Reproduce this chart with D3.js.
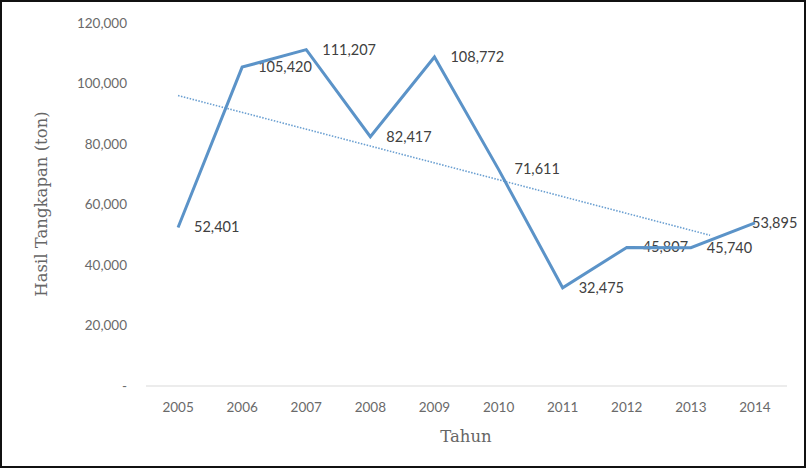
<!DOCTYPE html>
<html><head><meta charset="utf-8">
<script src="https://cdn.jsdelivr.net/npm/d3@7"></script>
<style>body{margin:0;background:#fff}svg{display:block}</style>
</head><body>
<svg id="c" width="808" height="472"></svg>
<script>
const years = ["2005","2006","2007","2008","2009","2010","2011","2012","2013","2014"];
const catch_ = [52401,105420,111207,82417,108772,71611,32475,45807,45740,53895];
const yTicks = [0,20000,40000,60000,80000,100000,120000];
const trendEndIndex = 8.3;

const svg = d3.select("#c");
svg.append("rect").attr("x",1).attr("y",1).attr("width",804).attr("height",466)
  .attr("fill","#fff").attr("stroke","#111").attr("stroke-width",2);

const x = d3.scaleBand().domain(years).range([146,787]);
const y = d3.scaleLinear().domain([0,120000]).range([386,23]);
const cx = i => x(years[0]) + x.bandwidth()/2 + i*x.step();

// baseline
svg.append("line").attr("x1",146).attr("x2",787).attr("y1",y(0)).attr("y2",y(0))
  .attr("stroke","#d9d9d9").attr("stroke-width",1);

// y axis
const ya = svg.append("g").attr("transform","translate(127,0)")
  .call(d3.axisLeft(y).tickValues(yTicks).tickSize(0).tickFormat(v => v===0 ? "-" : d3.format(",")(v)));
ya.select(".domain").remove();
ya.selectAll("text").attr("font-family","Lato, 'Open Sans', sans-serif").attr("font-size",13.5).attr("fill","#6a6a6a").attr("x",0);

// x axis
const xa = svg.append("g").attr("transform",`translate(0,${y(0)})`)
  .call(d3.axisBottom(x).tickSize(0).tickPadding(16));
xa.select(".domain").remove();
xa.selectAll("text").attr("font-family","Lato, 'Open Sans', sans-serif").attr("font-size",13.5).attr("fill","#6a6a6a");

// titles
svg.append("text").attr("x",466).attr("y",442).attr("text-anchor","middle")
  .attr("font-family","'DejaVu Serif', 'Liberation Serif', serif").attr("font-size",16.5).attr("fill","#666").text("Tahun");
svg.append("text").attr("transform","translate(47,204) rotate(-90)").attr("text-anchor","middle")
  .attr("font-family","'DejaVu Serif', 'Liberation Serif', serif").attr("font-size",16.5).attr("fill","#666").text("Hasil Tangkapan (ton)");

// trend line (least squares)
const n = catch_.length, mx = d3.mean(d3.range(n)), my = d3.mean(catch_);
const slope = d3.sum(catch_, (v,i)=>(i-mx)*(v-my)) / d3.sum(d3.range(n), i=>(i-mx)*(i-mx));
const icpt = my - slope*mx;
const trendPts = [0, trendEndIndex];
svg.append("path").datum(trendPts)
  .attr("d", d3.line().x(t=>cx(t)).y(t=>y(icpt+slope*t)))
  .attr("fill","none").attr("stroke","#6a9fd1").attr("stroke-width",1.6).attr("stroke-dasharray","1.5,1.5");

// labels
const fmt = d3.format(",");
svg.append("g").selectAll("text").data(catch_).join("text")
  .attr("x",(d,i)=>Math.min(cx(i)+16, 799 - 47))
  .attr("y",(d)=>y(d)+5)
  .attr("font-family","Lato, 'Open Sans', sans-serif").attr("font-size",14.5).attr("fill","#404040")
  .text(d=>fmt(d));

// series line
svg.append("path").datum(catch_)
  .attr("d", d3.line().x((d,i)=>cx(i)).y(d=>y(d)))
  .attr("fill","none").attr("stroke","#5b93c8").attr("stroke-width",3).attr("stroke-linejoin","miter");
</script>
</body></html>
